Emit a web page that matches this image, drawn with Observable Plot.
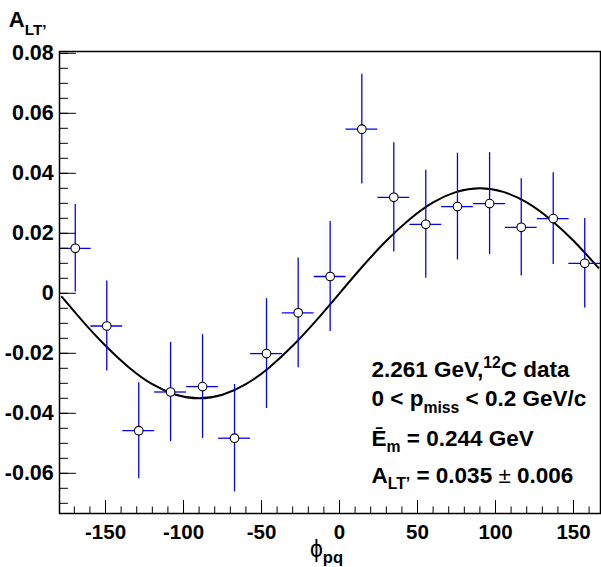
<!DOCTYPE html>
<html><head><meta charset="utf-8">
<script src="https://cdn.jsdelivr.net/npm/d3@7"></script>
<script src="https://cdn.jsdelivr.net/npm/@observablehq/plot@0.6"></script>
<style>body{margin:0;background:#fff}</style>
</head><body><div id="chart"></div>
<script>
// ---- data ----
const phi = [-169.4, -149.2, -128.7, -108.3, -87.8, -67.3, -46.8, -26.5, -6.0, 14.3, 34.8, 55.3, 75.6, 96.2, 116.5, 137.0, 157.2];
const asym = [0.015, -0.0109, -0.0458, -0.0329, -0.0311, -0.0483, -0.0201, -0.0065, 0.0056, 0.0547, 0.032, 0.023, 0.0289, 0.0299, 0.022, 0.0249, 0.010];
const asymErr = [0.0146, 0.015, 0.016, 0.0165, 0.0173, 0.0179, 0.0183, 0.0183, 0.0183, 0.0183, 0.0182, 0.018, 0.0178, 0.017, 0.0162, 0.0153, 0.0149];
const binHalfWidth = 10.2;
const fitPhi = [-178, -165, -150, -135, -120, -105, -90, -75, -60, -45, -30, -15, 0, 15, 30, 45, 60, 75, 90, 105, 120, 135, 150, 166];
const fitVal = [-0.0012, -0.0091, -0.0175, -0.0247, -0.0303, -0.0338, -0.035, -0.0338, -0.0303, -0.0247, -0.0175, -0.0091, 0, 0.0091, 0.0175, 0.0247, 0.0303, 0.0338, 0.035, 0.0338, 0.0303, 0.0247, 0.0175, 0.0085];
const xTickLabels = [-150, -100, -50, 0, 50, 100, 150];
const yTickLabels = [-0.06, -0.04, -0.02, 0, 0.02, 0.04, 0.06, 0.08];
const infoLines = ["2.261 GeV,^{12}C data", "0 < p_{miss} < 0.2 GeV/c", "\u0112_{m} = 0.244 GeV", "A_{LT\u2019} = 0.035 ~{\u00b1} 0.006"];
const yTitle = "A_{LT\u2019}";
const xTitle = "~{\u03d5}_{pq}";

// ---- layout ----
const infoDy = [325.7, 354.7, 394, 431];
const font = "'Liberation Sans', Arial, Helvetica, sans-serif";

const points = phi.map((p, i) => ({p, v: asym[i], e: asymErr[i]}));
const fit = fitPhi.map((p, i) => ({p, v: fitVal[i]}));
const xMinor = d3.range(-170, 170, 10);
const yMinor = d3.range(-70, 81, 5).map(v => v / 1000);
const tickLine = {draw(ctx, l) { ctx.moveTo(0, 0); ctx.lineTo(0, -l); }};

function richRender(base, subShift, subScale = 0.7) {
  return function(index, scales, values, dims, context, next) {
    const g = next(index, scales, values, dims, context);
    d3.select(g).selectAll("text").each(function() {
      const el = this;
      const s = el.textContent;
      el.textContent = "";
      const re = /(_|\^|~)\{([^}]*)\}/g;
      let last = 0, m, shift = 0;
      const add = (str, attrs) => {
        const t = d3.select(el).append("tspan").text(str);
        for (const k in attrs) t.attr(k, attrs[k]);
      };
      while ((m = re.exec(s))) {
        if (m.index > last) { add(s.slice(last, m.index), shift ? {dy: -shift} : {}); shift = 0; }
        if (m[1] === "~") {
          add(m[2], Object.assign({"font-weight": "normal"}, shift ? {dy: -shift} : {}));
          shift = 0;
        } else {
          const d = m[1] === "_" ? base * subShift : -base * 0.4;
          add(m[2], {"font-size": base * subScale, dy: d - shift});
          shift = d;
        }
        last = re.lastIndex;
      }
      if (last < s.length) add(s.slice(last), shift ? {dy: -shift} : {});
    });
    return g;
  };
}

const chart = Plot.plot({
  width: 601,
  height: 567,
  marginLeft: 59,
  marginRight: 1,
  marginTop: 51,
  marginBottom: 54,
  style: {fontFamily: font, fontWeight: "bold", background: "white", color: "black"},
  x: {domain: [-179.5, 167.3], label: null},
  y: {domain: [-0.0734, 0.0806], label: null},
  marks: [
    Plot.line(fit, {x: "p", y: "v", curve: "natural", stroke: "black", strokeWidth: 2, clip: true}),
    Plot.ruleY(points, {y: "v", x1: d => d.p - binHalfWidth, x2: d => d.p + binHalfWidth, stroke: "#0000ff", strokeWidth: 1.3, clip: true}),
    Plot.ruleX(points, {x: "p", y1: d => d.v - d.e, y2: d => d.v + d.e, stroke: "#0000ff", strokeWidth: 1.3, clip: true}),
    Plot.dot(points, {x: "p", y: "v", r: 4.3, fill: "white", stroke: "black", strokeWidth: 1.1}),
    Plot.vector(xMinor, {x: d => d, frameAnchor: "bottom", length: 6.7, rotate: 0, anchor: "start", shape: tickLine, stroke: "black", strokeWidth: 1}),
    Plot.vector(xTickLabels, {x: d => d, frameAnchor: "bottom", length: 13, rotate: 0, anchor: "start", shape: tickLine, stroke: "black", strokeWidth: 1}),
    Plot.vector(yMinor, {y: d => d, frameAnchor: "left", length: 8, rotate: 90, anchor: "start", shape: tickLine, stroke: "black", strokeWidth: 1}),
    Plot.vector(yTickLabels, {y: d => d, frameAnchor: "left", length: 16, rotate: 90, anchor: "start", shape: tickLine, stroke: "black", strokeWidth: 1}),
    Plot.frame({stroke: "black", strokeWidth: 1.5}),
    Plot.axisX({ticks: xTickLabels, tickSize: 0, tickPadding: 11, fontSize: 20.5, tickFormat: d => String(d), label: null}),
    Plot.axisY({ticks: yTickLabels, tickSize: 0, tickPadding: 5.7, fontSize: 21.5, tickFormat: d => d === 0 ? "0" : d.toFixed(2), label: null}),
    Plot.text([xTitle], {text: d => d, frameAnchor: "bottom", dx: -3.5, dy: 43, lineAnchor: "bottom", fontSize: 23, render: richRender(23, 0.28, 0.72)}),
    Plot.text([yTitle], {text: d => d, frameAnchor: "top-left", textAnchor: "start", dx: -50.7, dy: -24.3, lineAnchor: "bottom", fontSize: 22, render: richRender(22, 0.35)}),
    ...infoLines.map((s, i) => Plot.text([s], {text: d => d, frameAnchor: "top-left", textAnchor: "start", dx: 312, dy: infoDy[i], lineAnchor: "bottom", fontSize: 22.5, render: richRender(22.5, 0.28)}))
  ]
});
document.getElementById("chart").appendChild(chart);
</script>
</body></html>
